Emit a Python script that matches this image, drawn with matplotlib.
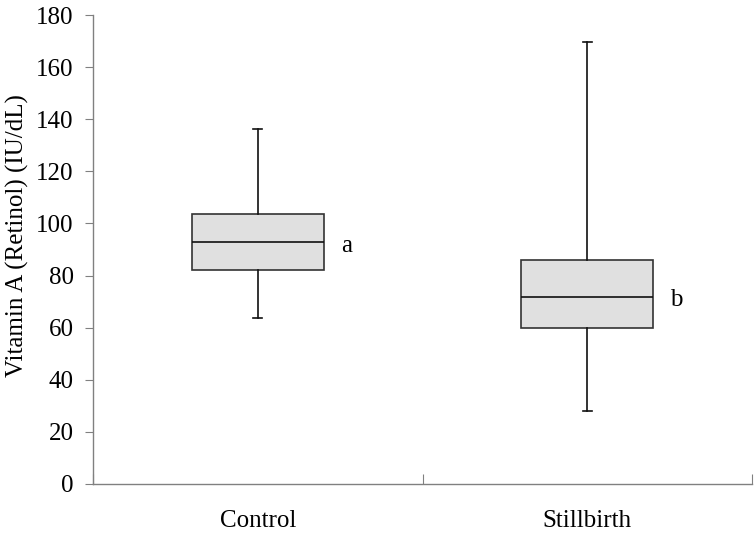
import matplotlib
matplotlib.use("Agg")
import matplotlib.pyplot as plt

categories = ["Control", "Stillbirth"]
whisker_low = [63.7, 28.1]
q1 = [82.1, 60.0]
median = [92.7, 71.9]
q3 = [103.6, 86.0]
whisker_high = [136.1, 169.7]
letters = ["a", "b"]

plt.rcParams['font.family'] = ['Liberation Serif', 'DejaVu Serif']

fig = plt.figure(figsize=(7.56, 5.39), dpi=100)
ax = fig.add_axes([93/756, 55/539, (752-93)/756, (484-15)/539])

stats = []
for i, c in enumerate(categories):
    stats.append(dict(label=c, whislo=whisker_low[i], q1=q1[i], med=median[i],
                      q3=q3[i], whishi=whisker_high[i], fliers=[]))

positions = [0.5, 1.5]
ax.bxp(stats, positions=positions, widths=0.4, patch_artist=True, showfliers=False,
       boxprops=dict(facecolor='#e0e0e0', edgecolor='#333333', linewidth=1.2),
       medianprops=dict(color='#111111', linewidth=1.2),
       whiskerprops=dict(color='#111111', linewidth=1.2),
       capprops=dict(color='#111111', linewidth=1.2),
       capwidths=0.027, manage_ticks=False)

for i, l in enumerate(letters):
    ax.text(positions[i] + 0.27, median[i] - 1.2, l, fontsize=18, va='center', ha='center')

ax.set_xlim(0, 2)
ax.set_ylim(0, 180)
ax.set_yticks(range(0, 181, 20))
ax.set_xticks([0, 1, 2])
ax.set_xticklabels([])
ax.set_xticks(positions, minor=True)
ax.set_xticklabels(categories, minor=True)
ax.tick_params(axis='x', which='major', direction='in', length=7, color='#808080')
ax.tick_params(axis='x', which='minor', length=0, labelsize=18, pad=19)
ax.tick_params(axis='y', direction='out', length=6, color='#808080', labelsize=18, pad=8)

for s in ['top', 'right']:
    ax.spines[s].set_visible(False)
for s in ['left', 'bottom']:
    ax.spines[s].set_color('#808080')
    ax.spines[s].set_linewidth(1.0)

ax.set_ylabel("Vitamin A (Retinol) (IU/dL)", fontsize=18)
ax.yaxis.set_label_coords(-0.097, 0.529)

fig.savefig("out.png", dpi=100)
